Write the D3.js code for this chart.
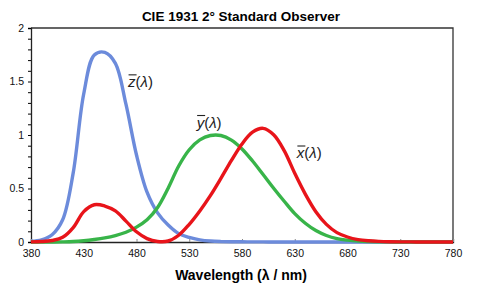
<!DOCTYPE html>
<html>
<head>
<meta charset="utf-8">
<script src="https://cdn.jsdelivr.net/npm/d3@7"></script>
<style>
  body { margin: 0; background: #fff; }
  text { font-family: "Liberation Sans", Arial, sans-serif; }
</style>
</head>
<body>
<svg id="chart" width="482" height="294"></svg>
<script>
// Wellenlängen (nm) und Farbabgleichsfunktionen
const wavelengths = d3.range(380, 781, 10);
const xBar = [0.0014, 0.0042, 0.0143, 0.0435, 0.1344, 0.2839, 0.3483, 0.3362, 0.2908, 0.1954,
              0.0956, 0.0320, 0.0049, 0.0093, 0.0633, 0.1655, 0.2904, 0.4334, 0.5945, 0.7621,
              0.9163, 1.0263, 1.0622, 1.0026, 0.8544, 0.6424, 0.4479, 0.2835, 0.1649, 0.0874,
              0.0468, 0.0227, 0.0114, 0.0058, 0.0029, 0.0014, 0.0007, 0.0003, 0.0002, 0.0001, 0.0000];
const yBar = [0.0000, 0.0001, 0.0004, 0.0012, 0.0040, 0.0116, 0.0230, 0.0380, 0.0600, 0.0910,
              0.1390, 0.2080, 0.3230, 0.5030, 0.7100, 0.8620, 0.9540, 0.9950, 0.9950, 0.9520,
              0.8700, 0.7570, 0.6310, 0.5030, 0.3810, 0.2650, 0.1750, 0.1070, 0.0610, 0.0320,
              0.0170, 0.0082, 0.0041, 0.0021, 0.0010, 0.0005, 0.0002, 0.0001, 0.0001, 0.0000, 0.0000];
const zBar = [0.0065, 0.0201, 0.0679, 0.2074, 0.6456, 1.3856, 1.7471, 1.7721, 1.6692, 1.2876,
              0.8130, 0.4652, 0.2720, 0.1582, 0.0783, 0.0422, 0.0203, 0.0088, 0.0039, 0.0021,
              0.0017, 0.0011, 0.0008, 0.0003, 0.0002, 0.0000, 0.0000, 0.0000, 0.0000, 0.0000,
              0.0000, 0.0000, 0.0000, 0.0000, 0.0000, 0.0000, 0.0000, 0.0000, 0.0000, 0.0000, 0.0000];

const xTicks = d3.range(380, 781, 50);
const yTicks = [0, 0.5, 1, 1.5, 2];

const series = [
  { name: "z", values: zBar, color: "#6c8bdb", label: { letter: "z", wl: 472, v: 1.45 } },
  { name: "y", values: yBar, color: "#38b449", label: { letter: "y", wl: 537, v: 1.07 } },
  { name: "x", values: xBar, color: "#e8141a", label: { letter: "x", wl: 632, v: 0.785 } }
];

const svg = d3.select("#chart");
const margin = { top: 28, right: 29, bottom: 52, left: 31 },
      width = 482 - margin.left - margin.right,
      height = 294 - margin.top - margin.bottom;

const g = svg.append("g").attr("transform", `translate(${margin.left},${margin.top})`);

const x = d3.scaleLinear().domain([380, 780]).range([0, width]);
const y = d3.scaleLinear().domain([0, 2]).range([height, 0]);

// Titel
svg.append("text")
   .attr("x", 241).attr("y", 21)
   .attr("text-anchor", "middle")
   .style("font-size", "13.5px").style("font-weight", "bold")
   .text("CIE 1931 2° Standard Observer");

// Rahmen oben und rechts
g.append("path")
 .attr("d", `M0,0H${width}V${height}`)
 .attr("fill", "none").attr("stroke", "#333").attr("stroke-width", 1.3);

// Y-Achse mit Nebenstrichen
g.append("g")
 .call(d3.axisLeft(y).tickValues(d3.range(0, 2.01, 0.1)).tickSize(3).tickFormat(""))
 .call(a => a.select(".domain").attr("stroke", "#222").attr("stroke-width", 1.3));
g.append("g")
 .call(d3.axisLeft(y).tickValues(yTicks).tickSize(0).tickPadding(7).tickFormat(d3.format("")))
 .call(a => a.select(".domain").remove())
 .call(a => a.selectAll("text").style("font-size", "10.5px").style("font-family", "Liberation Sans, Arial, sans-serif").attr("fill", "#111"));

// X-Achse
g.append("g")
 .attr("transform", `translate(0,${height})`)
 .call(d3.axisBottom(x).tickValues(xTicks).tickSize(-3).tickPadding(8))
 .call(a => a.select(".domain").attr("stroke", "#222").attr("stroke-width", 1.3))
 .call(a => a.selectAll("line").attr("stroke", "#888"))
 .call(a => a.selectAll("text").style("font-size", "10.5px").style("font-family", "Liberation Sans, Arial, sans-serif").attr("fill", "#111"));

// X-Achsenbeschriftung
svg.append("text")
   .attr("x", 241).attr("y", 280)
   .attr("text-anchor", "middle")
   .style("font-size", "14px").style("font-weight", "bold")
   .text("Wavelength (λ / nm)");

// Kurven
const line = d3.line()
  .x((d, i) => x(wavelengths[i]))
  .y(d => y(d))
  .curve(d3.curveCatmullRom.alpha(0.5));

series.forEach(s => {
  g.append("path")
   .datum(s.values)
   .attr("fill", "none")
   .attr("stroke", s.color)
   .attr("stroke-width", 3.4)
   .attr("stroke-linejoin", "round")
   .attr("d", line);
});

// Kurvenbeschriftungen mit Überstrich
series.forEach(s => {
  const lx = x(s.label.wl), ly = y(s.label.v);
  const t = g.append("text")
   .attr("x", lx).attr("y", ly)
   .style("font-size", "15px").attr("fill", "#222");
  t.append("tspan").style("font-style", "italic").text(s.label.letter);
  t.append("tspan").text("(");
  t.append("tspan").style("font-style", "italic").text("λ");
  t.append("tspan").text(")");
  g.append("line")
   .attr("x1", lx + 0.5).attr("x2", lx + 8.5)
   .attr("y1", ly - 12).attr("y2", ly - 12)
   .attr("stroke", "#222").attr("stroke-width", 1.1);
});
</script>
</body>
</html>
